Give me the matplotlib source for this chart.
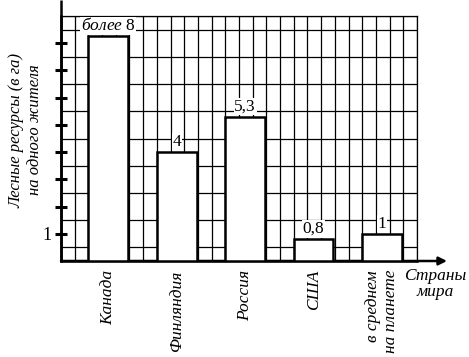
import numpy as np
import matplotlib
matplotlib.use('Agg')
import matplotlib.pyplot as plt

# data
countries = ['Канада', 'Финляндия', 'Россия', 'США', 'в среднем\nна планете']
values = [8.25, 4, 5.3, 0.8, 1]
value_labels = [r'$\mathit{более}$ 8', '4', '5,3', '0,8', '1']
y_ticks = [1, 2, 3, 4, 5, 6, 7, 8]

plt.rcParams['font.family'] = ['Liberation Serif', 'DejaVu Serif']
plt.rcParams['mathtext.fontset'] = 'custom'
plt.rcParams['mathtext.it'] = 'Liberation Serif:italic'
plt.rcParams['mathtext.rm'] = 'Liberation Serif'

W, H = 469, 357
fig = plt.figure(figsize=(W / 100, H / 100), dpi=100)
# grid box in pixels: x 61..417, y 16..261
ax = fig.add_axes([61 / W, (H - 261) / H, 356 / W, 245 / H])

# x axis measured in grid cells, y axis in hectares (one cell = 0.5)
n_cells = 26
ax.set_xlim(0, n_cells)
ax.set_ylim(0, 9)

ax.set_xticks([])
ax.set_xticks(np.arange(0, n_cells + 1), minor=True)
ax.set_yticks(y_ticks)
ax.set_yticklabels(['1'] + [''] * (len(y_ticks) - 1), fontsize=13)
ax.set_yticks(np.arange(0, 9.01, 0.5), minor=True)
ax.tick_params(axis='x', which='both', length=0)
ax.tick_params(axis='y', which='minor', length=0)
ax.tick_params(axis='y', which='major', direction='inout', length=8, width=2.2, pad=3)
ax.grid(True, which='minor', color='black', linewidth=0.9)
ax.set_axisbelow(True)

for side in ['top', 'right']:
    ax.spines[side].set_linewidth(0.9)
ax.spines['left'].set_linewidth(1.8)
ax.spines['bottom'].set_linewidth(1.8)

# y axis goes up past the grid, x axis ends with an arrow
ax.plot([0, 0], [0, 1 + 16 / 245], transform=ax.transAxes, color='black',
        linewidth=1.8, clip_on=False, solid_capstyle='butt')
ax.annotate('', xy=(1 + 30 / 356, 0), xytext=(0, 0), xycoords='axes fraction',
            arrowprops=dict(arrowstyle='-|>', color='black', lw=1.8,
                            mutation_scale=12, shrinkA=0, shrinkB=0))

bar_w = 2.9
xs = [2 + 5 * i + bar_w / 2 for i in range(len(countries))]
ax.bar(xs, values, width=bar_w, color='white', edgecolor='black',
       linewidth=1.8, zorder=3)

for x, v, lab in zip(xs, values, value_labels):
    ax.text(x, v + 0.08, lab, ha='center', va='bottom', fontsize=12.5, zorder=4,
            bbox=dict(facecolor='white', edgecolor='none', pad=0.5))

for x, name in zip(xs, countries):
    ax.text(x, -0.33, name, rotation=90, ha='center', va='top', fontsize=12.5,
            style='italic', multialignment='right', clip_on=False)

ax.text(1 + 18 / 356, -7 / 245, 'Страны\nмира', transform=ax.transAxes,
        ha='center', va='top', fontsize=12.5, style='italic', linespacing=1.0)

fig.text(26 / W, 1 - 130 / H, 'Лесные ресурсы (в га)\nна одного жителя',
         rotation=90, ha='center', va='center', fontsize=12, style='italic',
         linespacing=1.2)

fig.savefig('out.png', dpi=100)
